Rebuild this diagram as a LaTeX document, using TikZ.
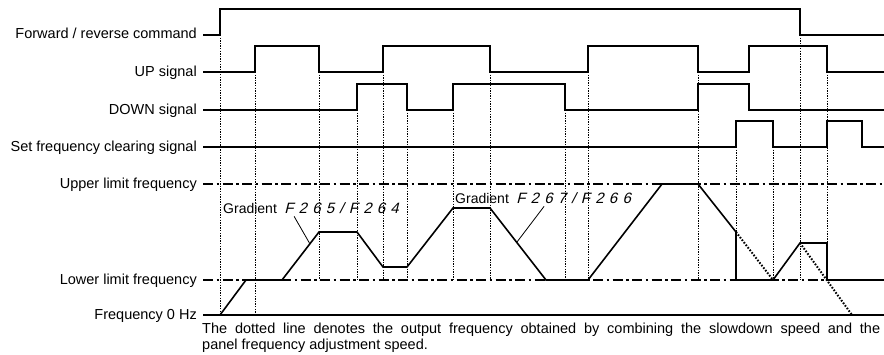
\documentclass[tikz,border=0pt]{standalone}
\usepackage{fontspec}
\setmainfont{Liberation Sans}
\newfontfamily\segfont[LetterSpace=35,FakeSlant=0.25]{Liberation Sans}

\begin{document}
\begin{tikzpicture}[x=1pt, y=-1pt,
    sig/.style={line width=1.6pt},
    guide/.style={line width=1pt, dash pattern=on 1.3pt off 1.3pt},
    limit/.style={line width=2.2pt, dash pattern=on 10pt off 3.5pt on 2.5pt off 3.5pt},
    slow/.style={line width=2pt, dash pattern=on 1.6pt off 1.6pt},
    lbl/.style={anchor=base east, inner sep=0pt, font=\fontsize{14.5}{17}\selectfont},
    grad/.style={anchor=base west, inner sep=0pt, font=\fontsize{14}{17}\selectfont},
    code/.style={anchor=base west, inner sep=0pt, font=\fontsize{15}{17}\segfont},
    note/.style={anchor=base west, inner sep=0pt, font=\fontsize{14.5}{16}\selectfont},
]
\useasboundingbox (0,0) rectangle (884,354);

% Vertical guides (x / top / bottom)
\foreach \gx/\gtop/\gbot in {220/35/315, 255/72/315, 319/72/280, 357/110/280,
    383/72/280, 407/110/280, 453/110/280, 490/72/280, 565/110/280, 588/72/280,
    698/72/280, 736/147/232, 773/147/280, 800/35/280, 827/72/243}
  \draw[guide] (\gx,\gtop) -- (\gx,\gbot);

% Signal labels
\node[lbl] (fwdlbl) at (197,38) {Forward / reverse command};
\node[lbl] (uplbl) at (197,76.5) {UP signal};
\node[lbl] (downlbl) at (197,114.5) {DOWN signal};
\node[lbl] (clrlbl) at (197,151.5) {Set frequency clearing signal};
\node[lbl] (upperlbl) at (197,188.5) {Upper limit frequency};
\node[lbl] (lowerlbl) at (197,284.5) {Lower limit frequency};
\node[lbl] (zerolbl) at (197,319.5) {Frequency 0 Hz};

% Signals
\draw[sig] (203,35) -- (220,35) -- (220,9) -- (800,9) -- (800,35) -- (884,35);
\draw[sig] (203,72) -- (255,72) -- (255,46) -- (319,46) -- (319,72) -- (383,72)
  -- (383,46) -- (490,46) -- (490,72) -- (588,72) -- (588,46) -- (698,46)
  -- (698,72) -- (749,72) -- (749,46) -- (827,46) -- (827,72) -- (884,72);
\draw[sig] (203,110) -- (357,110) -- (357,84) -- (407,84) -- (407,110) -- (453,110)
  -- (453,84) -- (565,84) -- (565,110) -- (698,110) -- (698,84) -- (749,84)
  -- (749,110) -- (884,110);
\draw[sig] (203,147) -- (736,147) -- (736,121) -- (773,121) -- (773,147)
  -- (827,147) -- (827,121) -- (862,121) -- (862,147) -- (884,147);

% Frequency levels
\draw[limit] (203,184) -- (884,184);
\draw[limit] (203,280) -- (884,280);
\draw[sig] (203,315) -- (884,315);

% Output frequency
\draw[sig, line join=miter] (220,315) -- (246,280) -- (282,280) -- (319,232) -- (357,232)
  -- (383,267) -- (407,267) -- (453,208) -- (490,208) -- (546,280) -- (588,280)
  -- (662,184) -- (698,184) -- (736,232) -- (736,280) -- (773,280) -- (800,243)
  -- (827,243) -- (827,280) -- (884,280);
\draw[slow] (736,232) -- (773,280);
\draw[slow] (800,243) -- (852,315);

% Gradient notes
\node[grad] (grad1) at (223,213) {Gradient};
\node[code] (code1) at ([xshift=7pt]grad1.base east) {F265/F264};
\coordinate (tip1) at (310,244);
\draw[line width=0.8pt] ([xshift=10pt, yshift=-3pt]code1.south west) -- (tip1);

\node[grad] (grad2) at (455,203) {Gradient};
\node[code] (code2) at ([xshift=7pt]grad2.base east) {F267/F266};
\coordinate (tip2) at (517,242);
\draw[line width=0.8pt] ([xshift=28pt, yshift=-3pt]code2.south west) -- (tip2);

% Caption
\node[note] (note1) at (202,333)
  {\makebox[678pt][s]{The dotted line denotes the output frequency obtained by combining the slowdown speed and the}};
\node[note] (note2) at (202,349) {panel frequency adjustment speed.};
\end{tikzpicture}
\end{document}
